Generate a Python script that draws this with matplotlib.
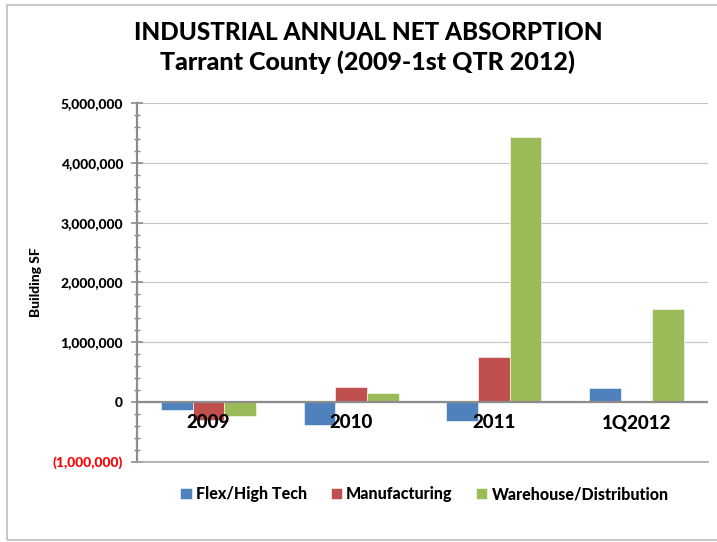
import matplotlib.pyplot as plt
import numpy as np
from matplotlib import font_manager
from matplotlib.patches import Rectangle
from matplotlib.ticker import FuncFormatter, MultipleLocator

categories = ['2009', '2010', '2011', '1Q2012']
flex = [-125000, -375000, -315000, 245000]
manufacturing = [-300000, 260000, 755000, 20000]
warehouse = [-230000, 160000, 4440000, 1550000]
series_names = ['Flex/High Tech', 'Manufacturing', 'Warehouse/Distribution']
colors = ['#4f81bd', '#c0504d', '#9bbb59']


# heaviest installed face of the first family that has one
def heavy_family(candidates):
    best = None
    for fam in candidates:
        weights = [f.weight for f in font_manager.fontManager.ttflist if f.name == fam]
        weights = [w if isinstance(w, int) else font_manager.weight_dict.get(w, 400)
                   for w in weights]
        if weights and max(weights) >= 700:
            return fam, max(weights)
    return 'DejaVu Sans', 700


family, WEIGHT = heavy_family(['Lato', 'Open Sans', 'Roboto', 'Noto Sans'])
plt.rcParams['font.family'] = [family, 'DejaVu Sans']
plt.rcParams['font.weight'] = WEIGHT

fig = plt.figure(figsize=(7.17, 5.42), dpi=100)
ax = fig.add_axes((137 / 717, 1 - 462 / 542, 571 / 717, 359 / 542))

# light frame around the whole chart
fig.patches.append(Rectangle((7 / 717, 2 / 542), 1.0, 535 / 542,
                             transform=fig.transFigure, fill=False,
                             edgecolor='#bfbfbf', linewidth=1.2, zorder=0))

x = np.arange(len(categories))
w = 0.222
for i, (vals, name, c) in enumerate(zip([flex, manufacturing, warehouse], series_names, colors)):
    ax.bar(x + (i - 1) * w, vals, w, color=c, label=name, zorder=3,
           edgecolor='white', linewidth=0.4)

ax.set_xlim(-0.5, len(categories) - 0.5)
ax.set_ylim(-1000000, 5000000)
ax.yaxis.set_major_locator(MultipleLocator(1000000))
ax.yaxis.set_minor_locator(MultipleLocator(200000))
ax.yaxis.grid(True, which='major', color='#c4c4c4', linewidth=0.8, zorder=0)
ax.axhline(0, color='#8c8c8c', linewidth=1.6, zorder=4)


def fmt(v, pos):
    if v < 0:
        return '({:,.0f})'.format(-v)
    return '{:,.0f}'.format(v)


ax.yaxis.set_major_formatter(FuncFormatter(fmt))
ax.tick_params(axis='y', which='major', direction='inout', length=8, width=1.2,
               color='#8c8c8c', labelsize=10, pad=6)
ax.tick_params(axis='y', which='minor', direction='inout', length=5, width=1.0,
               color='#8c8c8c')
for lbl in ax.get_yticklabels():
    lbl.set_fontweight(WEIGHT)
    if lbl.get_text().startswith('('):
        lbl.set_color('#ff0000')

ax.set_xticks([])
for side in ['top', 'right']:
    ax.spines[side].set_visible(False)
ax.spines['left'].set_color('#8c8c8c')
ax.spines['left'].set_linewidth(1.6)
ax.spines['bottom'].set_color('#a6a6a6')
ax.spines['bottom'].set_linewidth(1.2)

# category names sit just under the zero line
for xi, cat in zip(x, categories):
    ax.annotate(cat, (xi, 0), xytext=(0, -15), textcoords='offset points',
                ha='center', va='center', fontsize=13.5, fontweight=WEIGHT, zorder=5)

ax.set_ylabel('Building SF', fontsize=10, fontweight=WEIGHT, labelpad=8)

fig.text(0.513, 0.940, 'INDUSTRIAL ANNUAL NET ABSORPTION', ha='center', va='center',
         fontsize=17.5, fontweight=WEIGHT)
fig.text(0.513, 0.885, 'Tarrant County (2009-1st QTR 2012)', ha='center', va='center',
         fontsize=18, fontweight=WEIGHT)

leg = fig.legend(loc='center', bbox_to_anchor=(0.592, 1 - 494 / 542), ncol=3,
                 frameon=False, prop={'size': 11.5, 'weight': WEIGHT},
                 handlelength=0.7, handleheight=0.7, handletextpad=0.25,
                 columnspacing=1.5)

fig.savefig('out.png', dpi=100)
